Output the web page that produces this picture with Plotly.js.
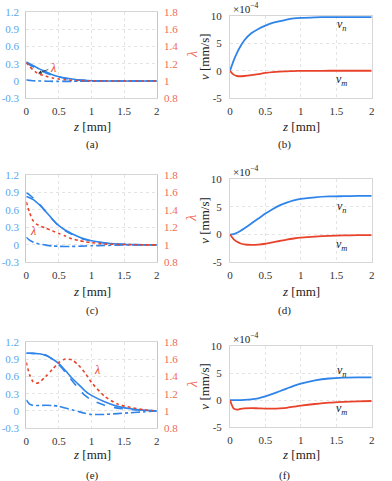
<!DOCTYPE html>
<html>
<head>
<meta charset="utf-8">
<script src="https://cdn.plot.ly/plotly-3.0.1.min.js"></script>
<style>
  html, body { margin: 0; padding: 0; background: #fff; }
  #grafico { width: 392px; height: 481px; }
</style>
</head>
<body>
<div id="grafico"></div>
<script>
// malla de z (mm), comun a todas las curvas
const z = [0, 0.05, 0.1, 0.15, 0.2, 0.3, 0.4, 0.5, 0.6, 0.7, 0.8, 0.9, 1, 1.2, 1.4, 1.6, 1.8, 2];

// (a)
const solidA   = [0.33, 0.30, 0.27, 0.24, 0.21, 0.16, 0.11, 0.075, 0.05, 0.035, 0.02, 0.01, 0.005, 0, 0, 0, 0, 0];
const dashedA  = [0.31, 0.28, 0.25, 0.22, 0.19, 0.14, 0.10, 0.07, 0.045, 0.03, 0.018, 0.01, 0.004, 0, 0, 0, 0, 0];
const dashdotA = [0.02, 0.01, 0.005, 0.002, 0, -0.004, -0.006, -0.008, -0.007, -0.006, -0.005, -0.003, -0.002, -0.001, 0, 0, 0, 0];
const lambdaA  = [1.21, 1.17, 1.13, 1.10, 1.08, 1.055, 1.035, 1.022, 1.014, 1.008, 1.005, 1.003, 1.001, 1, 1, 1, 1, 1];

// (b)  [x 1e-4 mm/s]
const vnB = [0, 1.8, 3.3, 4.5, 5.5, 6.8, 7.6, 8.2, 8.7, 9.0, 9.3, 9.5, 9.6, 9.7, 9.75, 9.75, 9.75, 9.75];
const vmB = [0, -0.7, -0.95, -1.0, -0.95, -0.8, -0.6, -0.4, -0.25, -0.15, -0.1, -0.05, -0.03, -0.01, 0, 0, 0, 0];

// (c)
const solidC   = [0.83, 0.81, 0.78, 0.74, 0.69, 0.57, 0.44, 0.33, 0.25, 0.19, 0.14, 0.10, 0.07, 0.035, 0.015, 0.006, 0.002, 0];
const dashedC  = [0.89, 0.86, 0.81, 0.76, 0.70, 0.57, 0.44, 0.32, 0.24, 0.18, 0.13, 0.09, 0.065, 0.03, 0.012, 0.005, 0.001, 0];
const dashdotC = [0.13, 0.08, 0.05, 0.03, 0.015, -0.005, -0.02, -0.025, -0.028, -0.027, -0.024, -0.02, -0.016, -0.01, -0.005, -0.002, 0, 0];
const lambdaC  = [1.49, 1.37, 1.28, 1.24, 1.22, 1.19, 1.16, 1.13, 1.10, 1.07, 1.05, 1.035, 1.025, 1.01, 1.005, 1.002, 1, 1];

// (d)
const vnD = [0, 0.1, 0.35, 0.7, 1.1, 2.0, 2.9, 3.8, 4.6, 5.3, 5.8, 6.2, 6.45, 6.75, 6.9, 6.95, 7.0, 7.0];
const vmD = [0, -0.8, -1.3, -1.6, -1.75, -1.85, -1.8, -1.65, -1.4, -1.15, -0.9, -0.7, -0.55, -0.35, -0.22, -0.15, -0.1, -0.08];

// (e)
const solidE   = [1.0, 1.0, 0.998, 0.995, 0.99, 0.96, 0.90, 0.82, 0.70, 0.57, 0.46, 0.35, 0.27, 0.16, 0.08, 0.04, 0.015, 0];
const dashedE  = [1.0, 1.0, 0.998, 0.995, 0.99, 0.97, 0.90, 0.80, 0.67, 0.53, 0.39, 0.27, 0.19, 0.10, 0.05, 0.025, 0.01, 0];
const dashdotE = [0.19, 0.12, 0.10, 0.095, 0.095, 0.10, 0.095, 0.08, 0.05, 0.02, -0.01, -0.04, -0.06, -0.06, -0.045, -0.03, -0.015, 0];
const lambdaE  = [1.56, 1.42, 1.34, 1.32, 1.33, 1.40, 1.48, 1.56, 1.60, 1.59, 1.53, 1.44, 1.33, 1.17, 1.08, 1.04, 1.015, 1.0];

// (f)
const vnF = [0, 0, 0, 0.02, 0.05, 0.15, 0.35, 0.7, 1.15, 1.65, 2.15, 2.65, 3.05, 3.65, 4.0, 4.15, 4.2, 4.2];
const vmF = [0, -1.5, -1.75, -1.6, -1.5, -1.45, -1.5, -1.55, -1.55, -1.5, -1.4, -1.2, -1.0, -0.7, -0.45, -0.3, -0.2, -0.15];

const xTicks = [0, 0.5, 1, 1.5, 2];
const xLabels = ['0', '0.5', '1', '1.5', '2'];
const leftTicks = [-0.3, 0, 0.3, 0.6, 0.9, 1.2];
const leftLabels = ['-0.3', '0', '0.3', '0.6', '0.9', '1.2'];
const rightTicks = [0.8, 1, 1.2, 1.4, 1.6, 1.8];
const rightLabels = ['0.8', '1', '1.2', '1.4', '1.6', '1.8'];
const vTicks = [-5, 0, 5, 10];
const vLabels = ['-5', '0', '5', '10'];

const W = 392, H = 481;
const FONT = 'Liberation Serif';
const BLUE = '#2f84ea';
const RED = '#e8432a';
const BLUE_TXT = '#5aa6ee';
const RED_TXT = '#ee6a55';

function px(x) { return x / W; }
function py(y) { return 1 - y / H; }

// posiciones de cada panel en pixeles
const colL = [26.3, 156.7];
const colR = [230, 371.7];
const rowsL = [[11.7, 98.3], [175, 262.3], [341.7, 428.3]];
const rowsR = [[15.7, 98.3], [179.3, 262.3], [346, 427.3]];
const titleY = [126, 291, 454];
const labelY = [145, 310, 475];
const letras = [['(a)', '(b)'], ['(c)', '(d)'], ['(e)', '(f)']];

function ejeX(dom, anchor) {
    return {
        domain: dom, anchor: anchor, range: [0, 2],
        tickvals: xTicks, ticktext: xLabels,
        showline: true, mirror: true, linecolor: '#d6d6d6', linewidth: 1,
        showgrid: true, gridcolor: '#e4e4e4', griddash: 'dot', zeroline: false,
        ticks: '', ticklabelstandoff: 2,
        tickfont: { family: FONT, size: 11, color: '#333' }
    };
}

var traces = [];
var layout = {
    width: W, height: H,
    margin: { l: 0, r: 0, t: 0, b: 0 },
    paper_bgcolor: '#fff', plot_bgcolor: '#fff',
    showlegend: false,
    annotations: [],
    font: { family: FONT }
};

const ladoIzq = [
    [solidA, dashedA, dashdotA, lambdaA],
    [solidC, dashedC, dashdotC, lambdaC],
    [solidE, dashedE, dashdotE, lambdaE]
];
const ladoDer = [[vnB, vmB], [vnD, vmD], [vnF, vmF]];

const txt = (text, x, y, size, extra) => Object.assign({
    text: text, x: px(x), y: py(y), xref: 'paper', yref: 'paper',
    xanchor: 'center', yanchor: 'middle',
    showarrow: false, font: { family: FONT, size: size, color: '#222' }
}, extra || {});

let nY = 1;
for (let r = 0; r < 3; r++) {
    // panel izquierdo: doble eje
    const xi = 2 * r + 1;
    const xn = xi === 1 ? 'x' : 'x' + xi;
    const yl = nY, yr = nY + 1;
    const ylName = yl === 1 ? 'y' : 'y' + yl;
    const yrName = 'y' + yr;
    const domL = [py(rowsL[r][1]), py(rowsL[r][0])];
    layout['xaxis' + (xi === 1 ? '' : xi)] = ejeX([px(colL[0]), px(colL[1])], ylName);
    layout['yaxis' + (yl === 1 ? '' : yl)] = {
        domain: domL, anchor: xn, range: [-0.3, 1.2],
        tickvals: leftTicks, ticktext: leftLabels,
        showline: true, linecolor: '#a9d0f5', linewidth: 1,
        showgrid: true, gridcolor: '#e4e4e4', griddash: 'dot', zeroline: false,
        ticks: '', ticklabelstandoff: 4,
        tickfont: { family: FONT, size: 11, color: BLUE_TXT }
    };
    layout['yaxis' + yr] = {
        overlaying: ylName, anchor: xn, side: 'right', range: [0.8, 1.8],
        tickvals: rightTicks, ticktext: rightLabels,
        showline: true, linecolor: '#f5b3a8', linewidth: 1,
        showgrid: false, zeroline: false,
        ticks: '', ticklabelstandoff: 4,
        tickfont: { family: FONT, size: 11, color: RED_TXT }
    };
    const d = ladoIzq[r];
    traces.push({ x: z, y: d[0], xaxis: xn, yaxis: ylName, mode: 'lines',
        line: { color: BLUE, width: 1.6, shape: 'spline', smoothing: 0.6 } });
    traces.push({ x: z, y: d[1], xaxis: xn, yaxis: ylName, mode: 'lines',
        line: { color: BLUE, width: 1.6, dash: 'dash', shape: 'spline', smoothing: 0.6 } });
    traces.push({ x: z, y: d[2], xaxis: xn, yaxis: ylName, mode: 'lines',
        line: { color: BLUE, width: 1.6, dash: 'dashdot', shape: 'spline', smoothing: 0.6 } });
    traces.push({ x: z, y: d[3], xaxis: xn, yaxis: yrName, mode: 'lines',
        line: { color: RED, width: 1.6, dash: 'dot', shape: 'spline', smoothing: 0.6 } });
    nY += 2;

    // panel derecho: velocidades
    const xd = 2 * r + 2;
    const xdn = 'x' + xd;
    const yv = nY;
    const yvName = 'y' + yv;
    layout['xaxis' + xd] = ejeX([px(colR[0]), px(colR[1])], yvName);
    layout['yaxis' + yv] = {
        domain: [py(rowsR[r][1]), py(rowsR[r][0])], anchor: xdn, range: [-5, 10],
        tickvals: vTicks, ticktext: vLabels,
        showline: true, mirror: true, linecolor: '#d6d6d6', linewidth: 1,
        showgrid: true, gridcolor: '#e4e4e4', griddash: 'dot', zeroline: false,
        ticks: '', ticklabelstandoff: 5,
        tickfont: { family: FONT, size: 11, color: '#333' }
    };
    traces.push({ x: z, y: ladoDer[r][0], xaxis: xdn, yaxis: yvName, mode: 'lines',
        line: { color: BLUE, width: 1.8, shape: 'spline', smoothing: 0.6 } });
    traces.push({ x: z, y: ladoDer[r][1], xaxis: xdn, yaxis: yvName, mode: 'lines',
        line: { color: RED, width: 1.8, shape: 'spline', smoothing: 0.6 } });
    nY += 1;

    // textos de cada fila
    layout.annotations.push(txt('<i>z</i> [mm]', 91.5, titleY[r], 13));
    layout.annotations.push(txt('<i>z</i> [mm]', 301, titleY[r], 13));
    layout.annotations.push(txt(letras[r][0], 92, labelY[r], 11));
    layout.annotations.push(txt(letras[r][1], 284, labelY[r], 11));
    const midL = (rowsL[r][0] + rowsL[r][1]) / 2;
    const midR = (rowsR[r][0] + rowsR[r][1]) / 2;
    layout.annotations.push(txt('<i>v</i> [mm/s]', 205, midR, 13, { textangle: -90 }));
    layout.annotations.push(txt('<i>λ</i>', 192, midL, 14, { textangle: -90,
        font: { family: FONT, size: 14, color: RED_TXT } }));
    layout.annotations.push(txt('×10<sup>−4</sup>', 231, rowsR[r][0] - 8, 11, { xanchor: 'left' }));
}

// etiquetas v_n, v_m sobre las curvas
const vEtiq = [
    ['x2', 'y3', 1.58, 8.3, -1.7],
    ['x4', 'y6', 1.58, 5.05, -1.9],
    ['x6', 'y9', 1.58, 5.4, -1.6]
];
vEtiq.forEach(e => {
    layout.annotations.push({ text: '<i>v<sub>n</sub></i>', xref: e[0], yref: e[1], x: e[2], y: e[3],
        showarrow: false, font: { family: FONT, size: 12, color: '#222' } });
    layout.annotations.push({ text: '<i>v<sub>m</sub></i>', xref: e[0], yref: e[1], x: e[2], y: e[4],
        showarrow: false, font: { family: FONT, size: 12, color: '#222' } });
});

// etiquetas lambda en los paneles izquierdos (con flecha en (a))
layout.annotations.push({
    text: '', xref: 'x', yref: 'y', x: 0.18, y: 0.13, ax: 0.36, ay: 0.21, axref: 'x', ayref: 'y',
    showarrow: true, arrowhead: 2, arrowsize: 0.9, arrowwidth: 0.8, arrowcolor: '#333'
});
layout.annotations.push({ text: '<i>λ</i>', xref: 'x', yref: 'y', x: 0.41, y: 0.22, showarrow: false,
    font: { family: FONT, size: 12, color: RED } });
layout.annotations.push({ text: '<i>λ</i>', xref: 'x3', yref: 'y4', x: 0.11, y: 0.24, showarrow: false,
    font: { family: FONT, size: 12, color: RED } });
layout.annotations.push({ text: '<i>λ</i>', xref: 'x5', yref: 'y7', x: 1.08, y: 0.71, showarrow: false,
    font: { family: FONT, size: 12, color: RED } });

Plotly.newPlot('grafico', traces, layout, { staticPlot: true });
</script>
</body>
</html>
